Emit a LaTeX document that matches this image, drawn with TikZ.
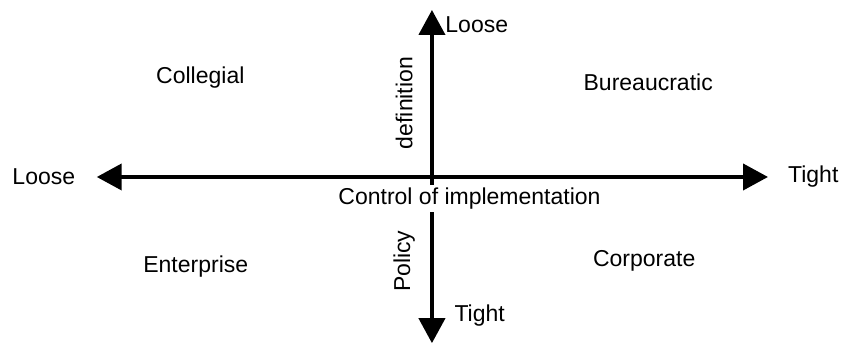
\documentclass[tikz,border=0pt]{standalone}
\usepackage{fontspec}
\setmainfont{Liberation Sans}
\usepackage{tikz}
\usetikzlibrary{arrows.meta, positioning}

\tikzset{
  axis/.style={line width=2pt, -{Triangle[length=12.5pt, width=13pt]}},
  lbl/.style={inner sep=0pt, font=\fontsize{11.5}{14}\selectfont},
}

\begin{document}
\begin{tikzpicture}
\useasboundingbox (-7.59,-2.90) rectangle (7.205,3.11);

\coordinate (west) at (-5.89,0);
\coordinate (east) at (5.905,0);
\coordinate (north) at (0,2.935);
\coordinate (south) at (0,-2.92);
\coordinate (centre) at (0,0);

\draw[axis] (centre) -- (north);
\draw[axis] (centre) -- (south);

\node[lbl, fill=white, inner sep=1.5pt] (control) at (0.66,-0.38) {Control of implementation};

\draw[axis] (centre) -- (west);
\draw[axis] (centre) -- (east);

\node[lbl] (looseH) at (-6.82,0) {Loose};
\node[lbl] (tightH) at (6.70,0.01) {Tight};
\node[lbl, anchor=west] (looseV) at (0.23,2.67) {Loose};
\node[lbl, anchor=west] (tightV) at (0.39,-2.44) {Tight};

\node[lbl, rotate=90] (definition) at (-0.49,1.30) {definition};
\node[lbl, rotate=90] (policy) at (-0.49,-1.48) {Policy};

\node[lbl] (collegial) at (-4.07,1.74) {Collegial};
\node[lbl] (bureaucratic) at (3.80,1.66) {Bureaucratic};
\node[lbl] (enterprise) at (-4.15,-1.57) {Enterprise};
\node[lbl] (corporate) at (3.73,-1.48) {Corporate};
\end{tikzpicture}
\end{document}
